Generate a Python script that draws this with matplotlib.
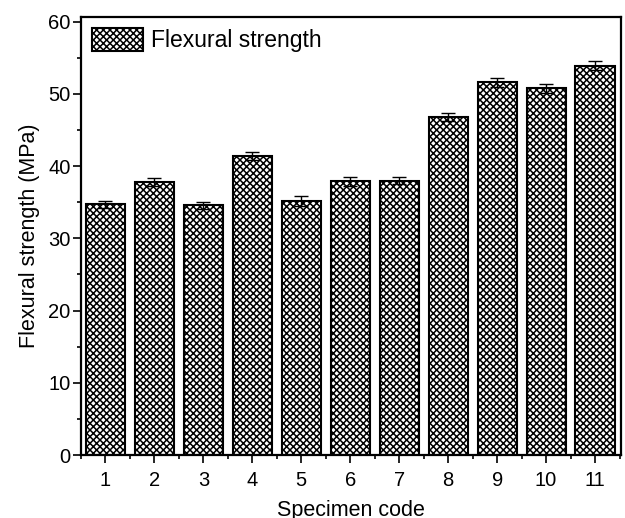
import matplotlib
matplotlib.use("Agg")
import matplotlib.pyplot as plt
from matplotlib.ticker import MultipleLocator, FixedLocator

specimens = ["1", "2", "3", "4", "5", "6", "7", "8", "9", "10", "11"]
strength = [34.7, 37.8, 34.6, 41.4, 35.2, 37.9, 38.0, 46.8, 51.6, 50.8, 53.9]
errors = [0.5, 0.6, 0.5, 0.6, 0.7, 0.6, 0.5, 0.5, 0.6, 0.6, 0.6]

plt.rcParams['font.family'] = ['Liberation Sans', 'DejaVu Sans']
plt.rcParams['hatch.linewidth'] = 1.1
plt.rcParams['hatch.color'] = 'black'

fig = plt.figure(figsize=(6.25, 5.18), dpi=100)
ax = fig.add_axes([0.1296, 0.1216, 0.8640, 0.8462])

x = list(range(1, len(specimens) + 1))
ax.bar(x, strength, width=0.8, color='white', edgecolor='black', linewidth=1.5,
       hatch='xxxxx', label='Flexural strength', zorder=2)
ax.errorbar(x, strength, yerr=errors, fmt='none', ecolor='black', elinewidth=1.0,
            capsize=5, capthick=1.0, zorder=3)

ax.set_xlim(0.5, 11.53)
ax.set_ylim(0, 60.7)
ax.set_xticks(x)
ax.set_xticklabels(specimens)
ax.xaxis.set_minor_locator(FixedLocator([i + 0.5 for i in range(0, 12)]))
ax.yaxis.set_major_locator(MultipleLocator(10))
ax.yaxis.set_minor_locator(MultipleLocator(5))

ax.tick_params(axis='x', which='major', direction='out', length=6, width=1.2,
               labelsize=14.5, pad=5.5, colors='black', top=False)
ax.tick_params(axis='y', which='major', direction='out', length=5.5, width=1.2,
               labelsize=14.5, pad=2, colors='black', right=False)
ax.tick_params(axis='both', which='minor', direction='out', length=3, width=1.2,
               top=False, right=False)
for s in ax.spines.values():
    s.set_linewidth(1.6)

ax.set_xlabel('Specimen code', fontsize=15.5, labelpad=7)
ax.set_ylabel('Flexural strength (MPa)', fontsize=15.5, labelpad=6)

ax.legend(loc='upper left', frameon=False, fontsize=16.5, handlelength=2.2,
          handleheight=1.13, handletextpad=0.35, borderaxespad=0.2, borderpad=0.3)

fig.savefig('out.png', dpi=100)
